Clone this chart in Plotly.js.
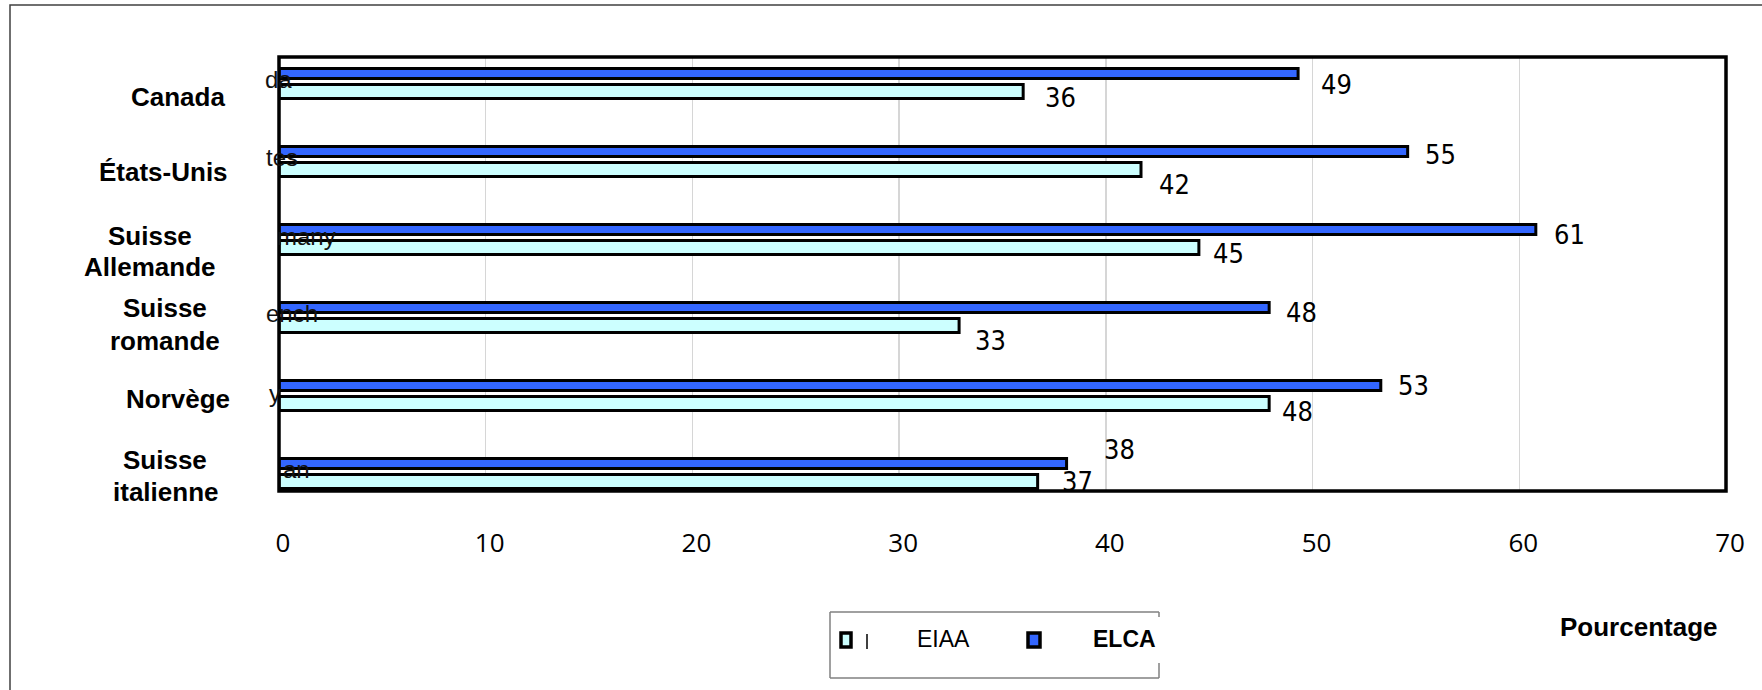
<!DOCTYPE html>
<html>
<head>
<meta charset="utf-8">
<script src="https://cdn.plot.ly/plotly-3.0.1.min.js"></script>
<style>
  html, body { margin: 0; padding: 0; background: #ffffff; }
  #chart { width: 1762px; height: 690px; }
</style>
</head>
<body>
<div id="chart"></div>
<script>
// ---------- data ----------
const categories = ["Canada", "États-Unis", "Suisse Allemande", "Suisse romande", "Norvège", "Suisse italienne"];
const eiaaValues = [36.0, 41.7, 44.5, 32.9, 47.9, 36.7];
const elcaValues = [49.3, 54.6, 60.8, 47.9, 53.3, 38.1];
const seriesNames = ["EIAA", "ELCA"];
const xTickValues = [0, 10, 20, 30, 40, 50, 60, 70];
const axisTitle = "Pourcentage";
const ghostFragments = ["da", "tes", "many", "ench", "y", "an"];

// ---------- layout geometry (pixels) ----------
const FIG_W = 1762, FIG_H = 690;
const L = 279, R = 1726, T = 57, B = 491;
const W = R - L, H = B - T;
const px = x => (x - L) / W;
const py = y => (B - y) / H;

const ELCA_COLOR = "#3366ff";
const EIAA_COLOR = "#ccffff";
const BOLD = "Liberation Sans, Arial, sans-serif";

const catLabelStyle = [
  { x: 227, anchor: "right",  ys: [97] },
  { x: 230, anchor: "right",  ys: [172] },
  { x: 150, anchor: "center", ys: [236, 267] },
  { x: 165, anchor: "center", ys: [308, 341] },
  { x: 232, anchor: "right",  ys: [399] },
  { x: 165, anchor: "center", ys: [460, 492] }
];
const ghostStyle = [
  { x: 263, y: 79 }, { x: 264, y: 157 }, { x: 275, y: 236 },
  { x: 264, y: 313 }, { x: 267, y: 393 }, { x: 281, y: 469 }
];
// pixel nudges for data labels (style only)
const elcaLabelXShift = [21, 15, 16, 15, 15, 35];
const elcaLabelYShift = [-11, -3, -4.5, -4.5, 0, 14];
const eiaaLabelXShift = [20, 16, 12, 14, 11, 22];
const eiaaLabelYShift = [-5.5, -14.5, -5.5, -14.5, -8, 0];

// bar geometry in category units
const ELCA_OFFSET = -0.192, ELCA_WIDTH = 0.128;
const EIAA_OFFSET = 0.013, EIAA_WIDTH = 0.18;
const CAT0_Y = 83.5, CAT_STEP = 78;

// ---------- traces ----------
const traces = [
  {
    type: "bar", orientation: "h", name: seriesNames[1],
    y: categories, x: elcaValues,
    offset: ELCA_OFFSET, width: ELCA_WIDTH,
    marker: { color: ELCA_COLOR, line: { color: "#000000", width: 3 } },
    showlegend: false, hoverinfo: "skip"
  },
  {
    type: "bar", orientation: "h", name: seriesNames[0],
    y: categories, x: eiaaValues,
    offset: EIAA_OFFSET, width: EIAA_WIDTH,
    marker: { color: EIAA_COLOR, line: { color: "#000000", width: 3 } },
    showlegend: false, hoverinfo: "skip"
  }
];

// ---------- annotations ----------
const annotations = [];
categories.forEach((c, i) => {
  const sp = c.indexOf(" ");
  const lines = (sp > 0 && c.startsWith("Suisse")) ? [c.slice(0, sp), c.slice(sp + 1)] : [c];
  const st = catLabelStyle[i];
  lines.forEach((ln, k) => {
    annotations.push({
      xref: "paper", yref: "paper", x: px(st.x), y: py(st.ys[k]),
      xanchor: st.anchor, yanchor: "middle", showarrow: false,
      text: "<b>" + ln + "</b>", align: "center",
      font: { family: BOLD, size: 26, color: "#000000" }
    });
  });
});
ghostFragments.forEach((g, i) => {
  annotations.push({
    xref: "paper", yref: "paper", x: px(ghostStyle[i].x), y: py(ghostStyle[i].y),
    xanchor: "left", yanchor: "middle", showarrow: false, text: g,
    font: { family: BOLD, size: 24, color: "#111111" }
  });
});
const labelFont = { family: "Liberation Sans Narrow, DejaVu Sans Condensed, Arial Narrow, sans-serif", size: 27, color: "#000000" };
elcaValues.forEach((v, i) => {
  annotations.push({
    xref: "x", yref: "paper", x: v,
    y: py(CAT0_Y + CAT_STEP * i + (ELCA_OFFSET + ELCA_WIDTH / 2) * CAT_STEP),
    xanchor: "left", yanchor: "middle", xshift: elcaLabelXShift[i], yshift: elcaLabelYShift[i],
    showarrow: false, text: String(Math.round(v)), font: labelFont
  });
});
eiaaValues.forEach((v, i) => {
  annotations.push({
    xref: "x", yref: "paper", x: v,
    y: py(CAT0_Y + CAT_STEP * i + (EIAA_OFFSET + EIAA_WIDTH / 2) * CAT_STEP),
    xanchor: "left", yanchor: "middle", xshift: eiaaLabelXShift[i], yshift: eiaaLabelYShift[i],
    showarrow: false, text: String(Math.round(v)), font: labelFont
  });
});
annotations.push({
  xref: "paper", yref: "paper", x: px(915), y: py(639), xanchor: "left", yanchor: "middle",
  showarrow: false, text: seriesNames[0], font: { family: BOLD, size: 23, color: "#000000" }
});
annotations.push({
  xref: "paper", yref: "paper", x: px(1091), y: py(639), xanchor: "left", yanchor: "middle",
  showarrow: false, text: "<b>" + seriesNames[1] + "</b>", font: { family: BOLD, size: 23, color: "#000000" }
});
annotations.push({
  xref: "paper", yref: "paper", x: px(1558), y: py(627), xanchor: "left", yanchor: "middle",
  showarrow: false, text: "<b>" + axisTitle + "</b>", font: { family: BOLD, size: 26, color: "#000000" }
});

// ---------- shapes ----------
const seg = (x0, y0, x1, y1, color, w) => ({
  type: "line", xref: "paper", yref: "paper", x0: px(x0), y0: py(y0), x1: px(x1), y1: py(y1),
  line: { color: color, width: w }, layer: "above"
});
const shapes = [
  // outer chart border (right and bottom edges lie outside the picture)
  { type: "rect", xref: "paper", yref: "paper", x0: px(10), y0: py(5), x1: px(1775), y1: py(700),
    line: { color: "#404040", width: 1.5 }, layer: "below" },
  // plot area border
  { type: "rect", xref: "paper", yref: "paper", x0: 0, y0: 0, x1: 1, y1: 1,
    line: { color: "#000000", width: 3.5 }, layer: "above" },
  // legend box (right side partly missing)
  seg(830, 612, 1159, 612, "#808080", 1.5),
  seg(830, 612, 830, 678, "#808080", 1.5),
  seg(830, 678, 1159, 678, "#808080", 1.5),
  seg(1159, 612, 1159, 617, "#808080", 1.5),
  seg(1159, 663, 1159, 678, "#808080", 1.5),
  // legend symbols
  { type: "rect", xref: "paper", yref: "paper", x0: px(841), y0: py(633), x1: px(851), y1: py(647),
    fillcolor: EIAA_COLOR, line: { color: "#000000", width: 3.5 }, layer: "above" },
  seg(867, 634, 867, 649, "#000000", 1.5),
  { type: "rect", xref: "paper", yref: "paper", x0: px(1028), y0: py(633), x1: px(1040), y1: py(647),
    fillcolor: ELCA_COLOR, line: { color: "#000000", width: 3.5 }, layer: "above" }
];

const layout = {
  width: FIG_W, height: FIG_H,
  margin: { l: L, r: FIG_W - R, t: T, b: FIG_H - B, pad: 0 },
  paper_bgcolor: "#ffffff", plot_bgcolor: "#ffffff",
  barmode: "overlay", showlegend: false, hovermode: false,
  xaxis: {
    range: [0, 70], tickvals: xTickValues, ticks: "",
    showgrid: true, gridcolor: "#d6d6d6", gridwidth: 1.5,
    zeroline: false, showline: false,
    tickfont: { family: "Open Sans, Noto Sans, sans-serif", size: 26, color: "#000000" },
    ticklabelstandoff: 34, ticklabelshift: 4
  },
  yaxis: {
    type: "category", categoryorder: "array", categoryarray: categories,
    range: [5.224, -0.34], showticklabels: false, showgrid: false,
    zeroline: false, showline: false, ticks: ""
  },
  annotations: annotations,
  shapes: shapes
};

Plotly.newPlot("chart", traces, layout, { staticPlot: true, displayModeBar: false });
</script>
</body>
</html>
